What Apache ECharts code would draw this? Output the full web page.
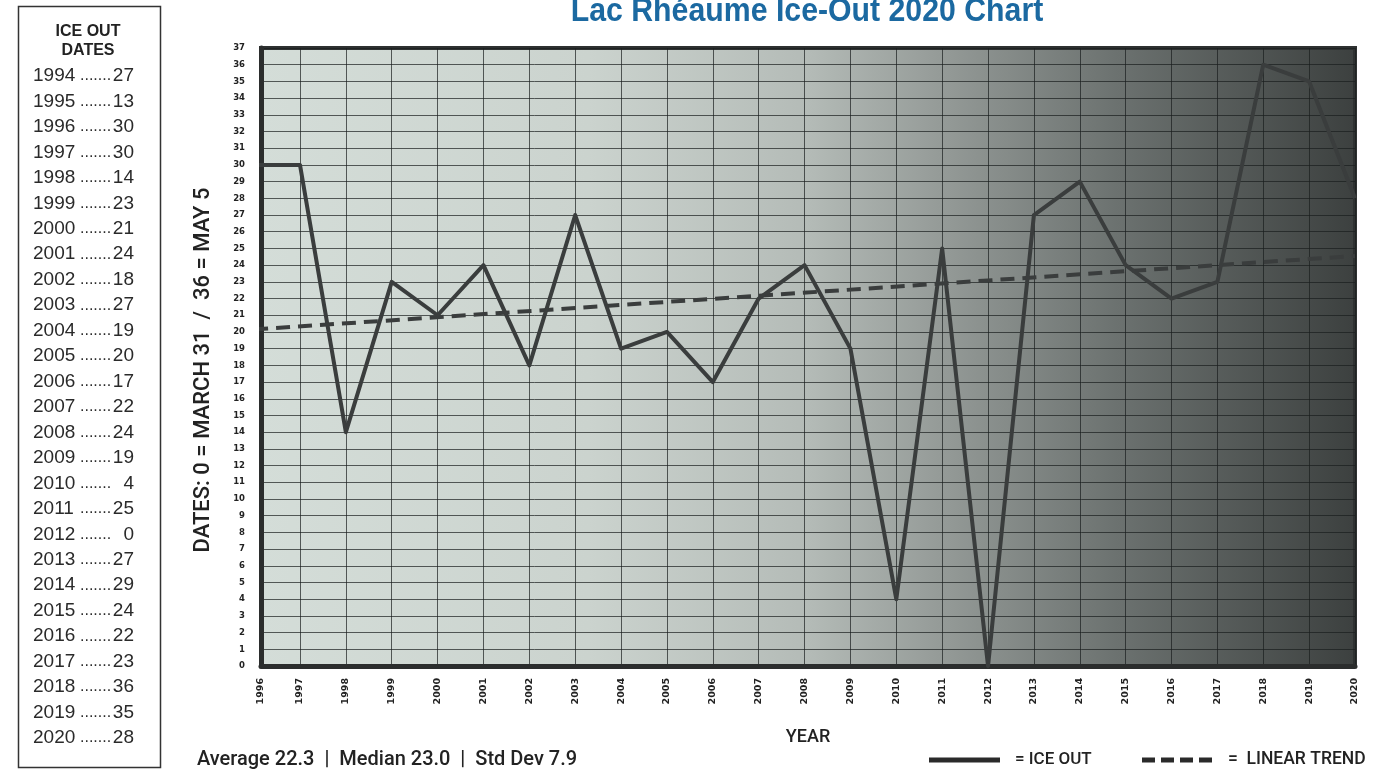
<!DOCTYPE html>
<html>
<head>
<meta charset="utf-8">
<script src="https://cdn.jsdelivr.net/npm/echarts@6/dist/echarts.min.js"></script>
<style>
html,body{margin:0;padding:0;background:#fff;}
#chart{width:1373px;height:770px;}
</style>
</head>
<body>
<div id="chart"></div>
<script>
// ---- data ----
const iceYears = [1994,1995,1996,1997,1998,1999,2000,2001,2002,2003,2004,2005,2006,2007,2008,2009,2010,2011,2012,2013,2014,2015,2016,2017,2018,2019,2020];
const iceValues = [27,13,30,30,14,23,21,24,18,27,19,20,17,22,24,19,4,25,0,27,29,24,22,23,36,35,28];
const trendYears = [1996, 2020];
const trendValues = [20.15, 24.55];
const xTickYears = [1997,1998,1999,2000,2001,2002,2003,2004,2005,2006,2007,2008,2009,2010,2011,2012,2013,2014,2015,2016,2017,2018,2019,2020];
const titleText = 'Lac Rhéaume Ice-Out 2020 Chart';
const statsText = 'Average 22.3  |  Median 23.0  |  Std Dev 7.9';
const yAxisTitle = 'DATES: 0 = MARCH 31  /  36 = MAY 5';
const xAxisTitle = 'YEAR';
const tableHeader = ['ICE OUT', 'DATES'];
const legendLabels = ['= ICE OUT', '=  LINEAR TREND'];

const X_MIN = 1996.15, X_MAX = 2020;
// chart shows 1996 onward
const chartPairs = iceYears.map((y, i) => [y, iceValues[i]]).filter(p => p[0] >= 1996);
const trendPairs = trendYears.map((y, i) => [y, trendValues[i]]);

const FONT = '"Liberation Sans", Arial, sans-serif';
const chart = echarts.init(document.getElementById('chart'), null, {renderer: 'canvas'});

const graphics = [];
// title
graphics.push({type: 'text', x: 807, y: 29, scaleX: 0.89, z: 10,
  style: {text: titleText, fill: '#1b69a1', font: 'bold 34px "Liberation Sans", sans-serif', align: 'center', verticalAlign: 'bottom'}});
// y axis title
graphics.push({type: 'text', x: 203, y: 370, rotation: Math.PI / 2,
  style: {text: yAxisTitle, fill: '#222', font: '500 22px Roboto, ' + FONT, align: 'center', verticalAlign: 'middle'}});
// table box
graphics.push({type: 'rect', shape: {x: 18.5, y: 6.5, width: 142, height: 761},
  style: {fill: 'none', stroke: '#333', lineWidth: 1.5}});
tableHeader.forEach((t, i) => {
  graphics.push({type: 'text', x: 88, y: 32 + i * 19,
    style: {text: t, fill: '#222', font: 'bold 16px ' + FONT, align: 'center', verticalAlign: 'middle'}});
});
iceYears.forEach((yr, i) => {
  const y = 76 + i * 25.46;
  graphics.push({type: 'text', x: 33, y: y,
    style: {text: String(yr), fill: '#2a2a2a', font: '19px ' + FONT, align: 'left', verticalAlign: 'middle'}});
  graphics.push({type: 'text', x: 80, y: y,
    style: {text: '.......', fill: '#2a2a2a', font: '16px ' + FONT, align: 'left', verticalAlign: 'middle'}});
  graphics.push({type: 'text', x: 134, y: y,
    style: {text: String(iceValues[i]), fill: '#2a2a2a', font: '19px ' + FONT, align: 'right', verticalAlign: 'middle'}});
});
// stats
graphics.push({type: 'text', x: 197, y: 760,
  style: {text: statsText, fill: '#222', font: '500 20px Roboto, ' + FONT, align: 'left', verticalAlign: 'middle'}});
// legend
graphics.push({type: 'line', shape: {x1: 929, y1: 760, x2: 1000, y2: 760},
  style: {stroke: '#2a2a2a', lineWidth: 5}});
graphics.push({type: 'text', x: 1015, y: 760,
  style: {text: legendLabels[0], fill: '#222', font: '500 17px Roboto, ' + FONT, align: 'left', verticalAlign: 'middle'}});
graphics.push({type: 'line', shape: {x1: 1142, y1: 760, x2: 1213, y2: 760},
  style: {stroke: '#2a2a2a', lineWidth: 5, lineDash: [13, 6]}});
graphics.push({type: 'text', x: 1228, y: 760,
  style: {text: legendLabels[1], fill: '#222', font: '500 17.5px Roboto, ' + FONT, align: 'left', verticalAlign: 'middle'}});

const option = {
  animation: false,
  backgroundColor: '#fff',
  grid: {
    left: 261, right: 18, top: 48, bottom: 104,
    show: true,
    borderColor: '#2e3131', borderWidth: 4,
    backgroundColor: new echarts.graphic.LinearGradient(0, 0, 1, 0, [
      {offset: 0, color: '#d4ddd8'},
      {offset: 0.3, color: '#cbd3ce'},
      {offset: 0.5, color: '#b4bbb7'},
      {offset: 0.62, color: '#959b98'},
      {offset: 0.78, color: '#6c7270'},
      {offset: 1, color: '#3c403f'}
    ])
  },
  xAxis: {
    type: 'value', min: X_MIN, max: X_MAX,
    name: xAxisTitle, nameLocation: 'middle', nameGap: 62,
    nameTextStyle: {color: '#222', fontSize: 18, fontWeight: 500, fontFamily: 'Roboto'},
    axisLine: {show: true, onZero: false, lineStyle: {color: '#2b2d2d', width: 5}},
    axisTick: {show: false, customValues: xTickYears},
    axisLabel: {
      rotate: 90, margin: 12, color: '#222', fontSize: 9.5, fontWeight: 'bold', fontFamily: 'DejaVu Sans',
      customValues: [X_MIN].concat(xTickYears),
      formatter: v => String(Math.round(v))
    },
    splitLine: {show: true, lineStyle: {color: 'rgba(25,30,30,0.7)', width: 1}}
  },
  yAxis: {
    type: 'value', min: 0, max: 37, interval: 1,
    axisLine: {show: true, lineStyle: {color: '#2b2d2d', width: 5}},
    axisTick: {show: false},
    axisLabel: {margin: 16, color: '#222', fontSize: 8.5, fontWeight: 'bold', fontFamily: 'DejaVu Sans'},
    splitLine: {show: true, lineStyle: {color: 'rgba(25,30,30,0.7)', width: 1}}
  },
  series: [
    {type: 'line', data: chartPairs, symbol: 'none', clip: true, z: 3,
      lineStyle: {color: '#3a3d3d', width: 4, join: 'round'}},
    {type: 'line', data: trendPairs, symbol: 'none', clip: true, z: 2,
      lineStyle: {color: '#3a3d3d', width: 4, type: [14, 8]}}
  ],
  graphic: graphics
};
chart.setOption(option);
</script>
</body>
</html>
